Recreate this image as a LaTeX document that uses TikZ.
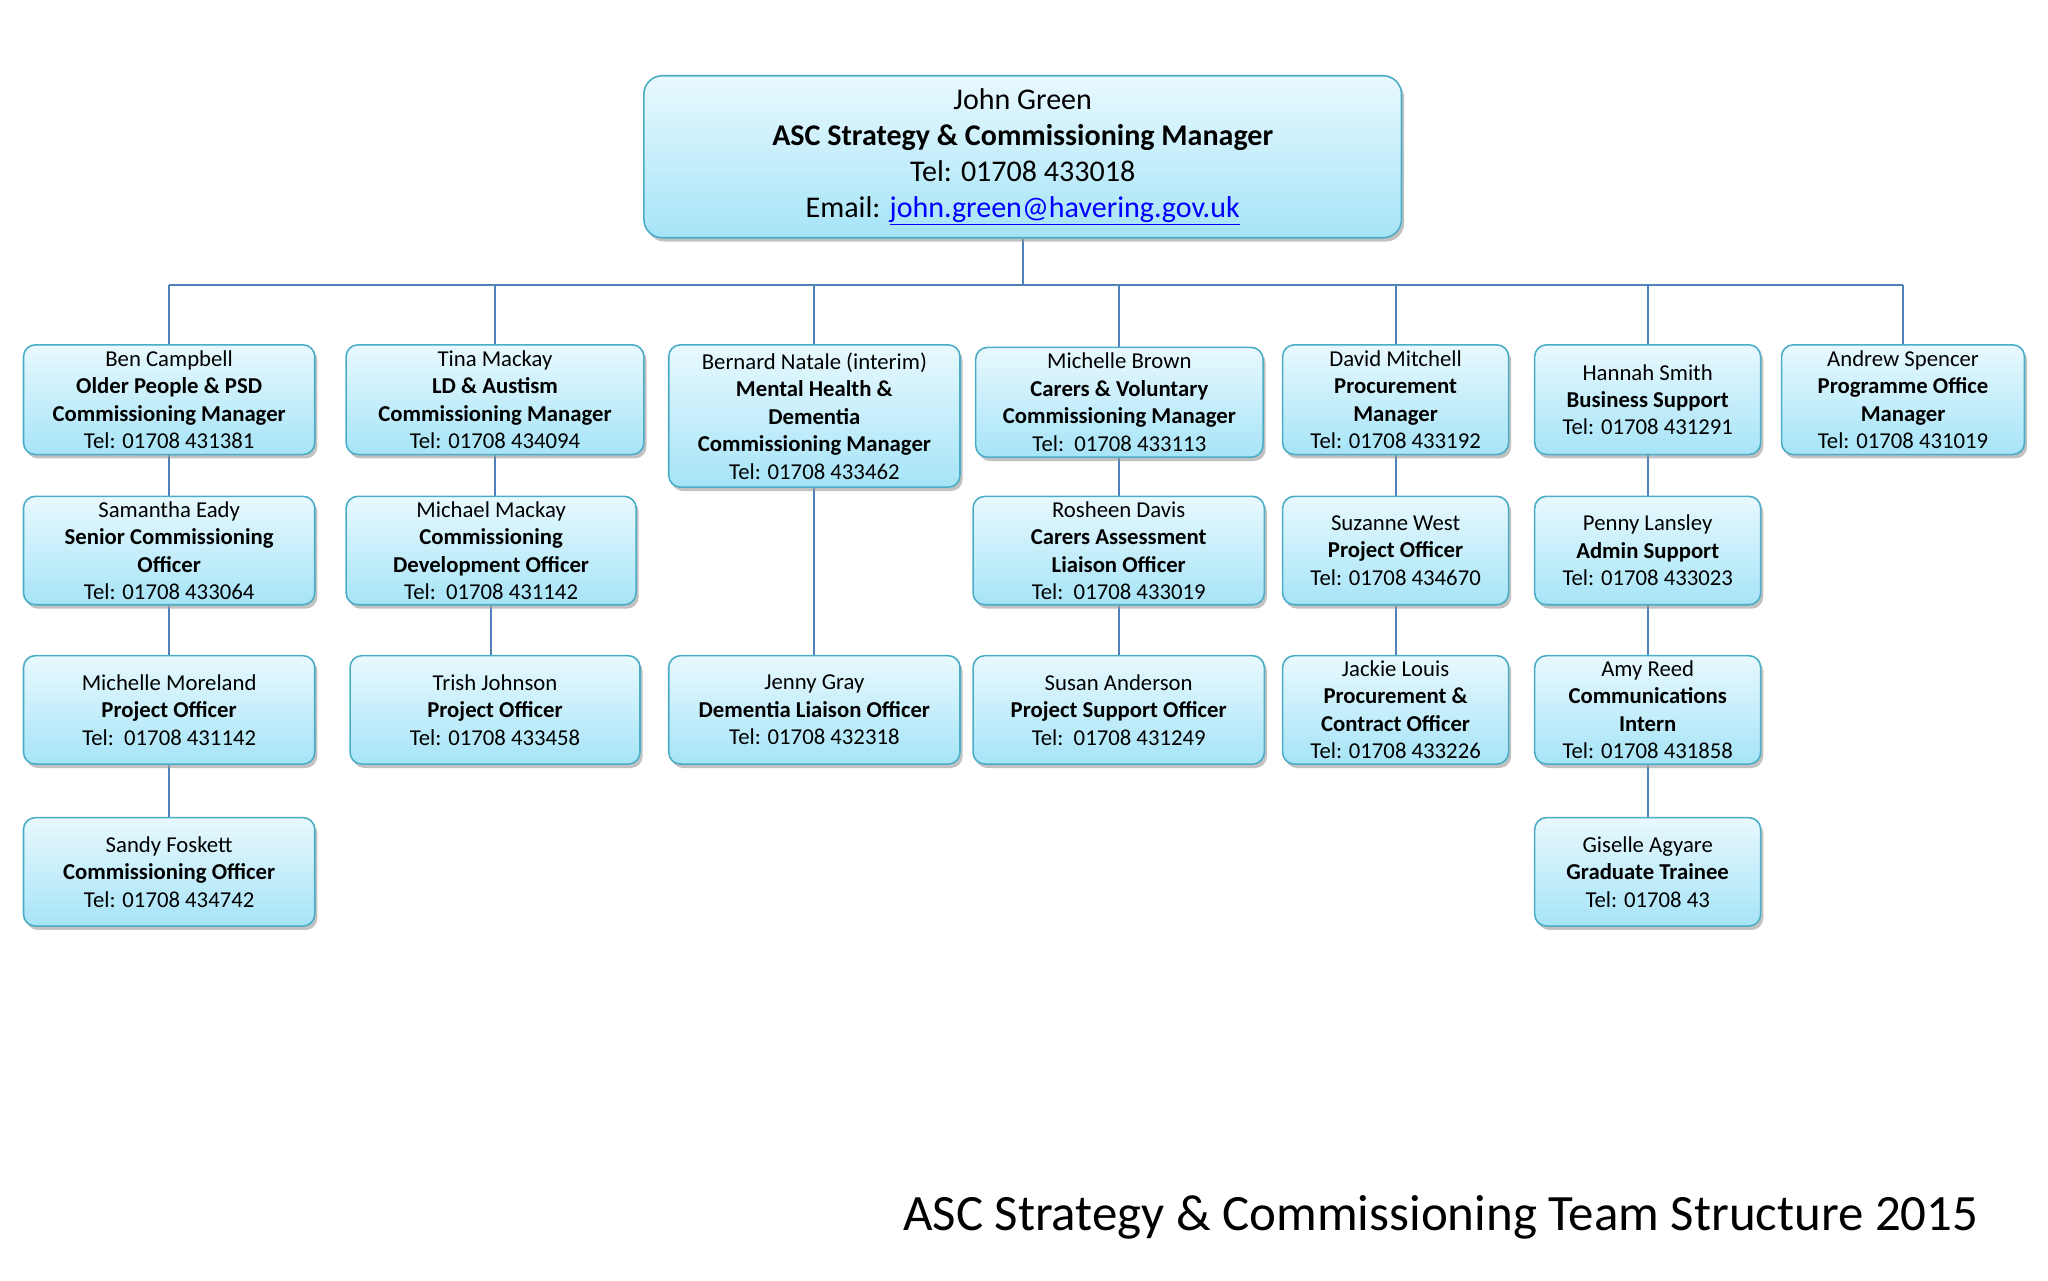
\documentclass[tikz,border=0pt]{standalone}
\usepackage{fontspec}
\setmainfont{Carlito}
\usetikzlibrary{shadows,backgrounds}
\definecolor{bord}{HTML}{4BACC6}
\definecolor{lin}{HTML}{4F81BD}
\definecolor{btop}{HTML}{E8F9FE}
\definecolor{bbot}{HTML}{A6E4F7}
\tikzset{
 box/.style={draw=bord,line width=1.2pt,rounded corners=9pt,top color=btop,bottom color=bbot,
   drop shadow={shadow xshift=2pt,shadow yshift=-3pt,fill=black!40,opacity=0.6},
   align=center,inner sep=1pt,font=\fontsize{17.4}{21}\selectfont},
 ln/.style={draw=lin,line width=1.4pt}
}
\newcommand{\bx}[6]{\node[box,minimum width=#3-#2,minimum height=#5-#4] (#1) at ({(#2+#3)/2},{(#4+#5)/2}) {#6};}
\begin{document}
\begin{tikzpicture}[x=1pt,y=-1pt]
\useasboundingbox (0,0) rectangle (1568,980);
\node[box,minimum width=580,minimum height=124,rounded corners=14pt,font=\fontsize{23}{27.5}\selectfont] (top) at (783,120)
 {John Green\\\textbf{ASC Strategy \& Commissioning Manager}\\Tel: 01708 433018\\Email: \textcolor{blue}{\underline{john.green@havering.gov.uk}}};
\bx{ben}{18}{241}{264}{348}{Ben Campbell\\\textbf{Older People \& PSD}\\\textbf{Commissioning Manager}\\Tel: 01708 431381}
\bx{tina}{265}{493}{264}{348}{Tina Mackay\\\textbf{LD \& Austism}\\\textbf{Commissioning Manager}\\Tel: 01708 434094}
\bx{bern}{512}{735}{264}{373}{Bernard Natale (interim)\\\textbf{Mental Health \&}\\\textbf{Dementia}\\\textbf{Commissioning Manager}\\Tel: 01708 433462}
\bx{mich}{747}{967}{266}{350}{Michelle Brown\\\textbf{Carers \& Voluntary}\\\textbf{Commissioning Manager}\\Tel:\ \ 01708 433113}
\bx{dav}{982}{1155}{264}{348}{David Mitchell\\\textbf{Procurement}\\\textbf{Manager}\\Tel: 01708 433192}
\bx{han}{1175}{1348}{264}{348}{Hannah Smith\\\textbf{Business Support}\\Tel: 01708 431291}
\bx{and}{1364}{1550}{264}{348}{Andrew Spencer\\\textbf{Programme Office}\\\textbf{Manager}\\Tel: 01708 431019}
\bx{sam}{18}{241}{380}{463}{Samantha Eady\\\textbf{Senior Commissioning}\\\textbf{Officer}\\Tel: 01708 433064}
\bx{mmk}{265}{487}{380}{463}{Michael Mackay\\\textbf{Commissioning}\\\textbf{Development Officer}\\Tel:\ \ 01708 431142}
\bx{ros}{745}{968}{380}{463}{Rosheen Davis\\\textbf{Carers Assessment}\\\textbf{Liaison Officer}\\Tel:\ \ 01708 433019}
\bx{suz}{982}{1155}{380}{463}{Suzanne West\\\textbf{Project Officer}\\Tel: 01708 434670}
\bx{pen}{1175}{1348}{380}{463}{Penny Lansley\\\textbf{Admin Support}\\Tel: 01708 433023}
\bx{mmo}{18}{241}{502}{585}{Michelle Moreland\\\textbf{Project Officer}\\Tel:\ \ 01708 431142}
\bx{tri}{268}{490}{502}{585}{Trish Johnson\\\textbf{Project Officer}\\Tel: 01708 433458}
\bx{jen}{512}{735}{502}{585}{Jenny Gray\\\textbf{Dementia Liaison Officer}\\Tel: 01708 432318}
\bx{sus}{745}{968}{502}{585}{Susan Anderson\\\textbf{Project Support Officer}\\Tel:\ \ 01708 431249}
\bx{jac}{982}{1155}{502}{585}{Jackie Louis\\\textbf{Procurement \&}\\\textbf{Contract Officer}\\Tel: 01708 433226}
\bx{amy}{1175}{1348}{502}{585}{Amy Reed\\\textbf{Communications}\\\textbf{Intern}\\Tel: 01708 431858}
\bx{san}{18}{241}{626}{709}{Sandy Foskett\\\textbf{Commissioning Officer}\\Tel: 01708 434742}
\bx{gis}{1175}{1348}{626}{709}{Giselle Agyare\\\textbf{Graduate Trainee}\\Tel: 01708 43}
\node[anchor=base east,font=\fontsize{39}{42}\selectfont,inner sep=0] (title) at (1515,942) {ASC Strategy \& Commissioning Team Structure 2015};
\begin{scope}[on background layer]
\coordinate (bus) at (783,218);
\draw[ln] (top.south) -- (bus);
\draw[ln] (ben.north |- bus) -- (and.north |- bus);
\foreach \n in {ben,tina,bern,mich,dav,han,and} \draw[ln] (\n.north |- bus) -- (\n.north);
\foreach \a/\b in {ben/sam,sam/mmo,mmo/san,tina/mmk,mmk/tri,bern/jen,mich/ros,ros/sus,dav/suz,suz/jac,han/pen,pen/amy,amy/gis}
  \draw[ln] (\a.south) -- (\a.south |- \b.north);
\end{scope}
\end{tikzpicture}
\end{document}
